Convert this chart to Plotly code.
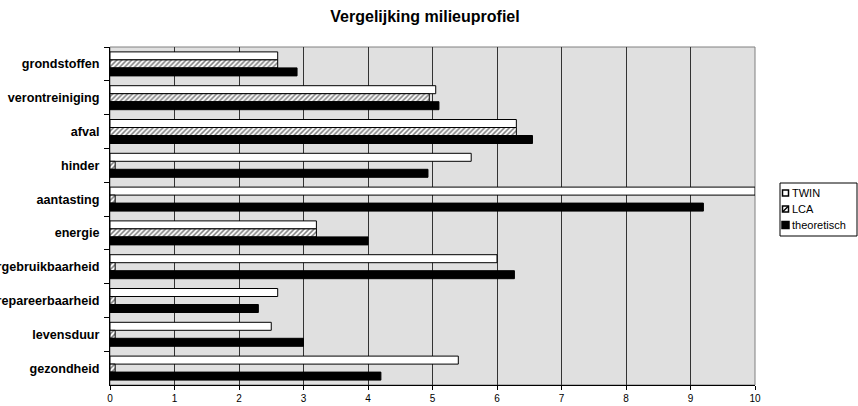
import plotly.graph_objects as go

categories = ["grondstoffen", "verontreiniging", "afval", "hinder", "aantasting",
              "energie", "hergebruikbaarheid", "repareerbaarheid", "levensduur", "gezondheid"]
twin = [2.6, 5.05, 6.3, 5.6, 10.0, 3.2, 6.0, 2.6, 2.5, 5.4]
lca = [2.6, 4.95, 6.3, 0.08, 0.08, 3.2, 0.08, 0.08, 0.08, 0.08]
theoretisch = [2.9, 5.1, 6.55, 4.93, 9.2, 4.0, 6.27, 2.3, 3.0, 4.2]
series_names = ["TWIN", "LCA", "theoretisch"]
x_ticks = list(range(0, 11))

W, H = 858, 406
L, R, T, B = 110, 103, 47, 21
FONT = "Liberation Sans, Arial, sans-serif"


def px(x):
    """pixel column -> paper x"""
    return (x - L) / (W - L - R)


def py(y):
    """pixel row -> paper y"""
    return (H - B - y) / (H - T - B)


line = dict(color="black", width=1)
fig = go.Figure()
fig.add_trace(go.Bar(y=categories, x=twin, name=series_names[0], orientation="h",
                     marker=dict(color="white", line=line)))
fig.add_trace(go.Bar(y=categories, x=lca, name=series_names[1], orientation="h",
                     marker=dict(color="white", line=line,
                                 pattern=dict(shape="/", fgcolor="black", bgcolor="white",
                                              size=3.5, solidity=0.45))))
fig.add_trace(go.Bar(y=categories, x=theoretisch, name=series_names[2], orientation="h",
                     marker=dict(color="black", line=line)))

fig.update_layout(
    width=W, height=H,
    margin=dict(l=L, r=R, t=T, b=B, autoexpand=False),
    paper_bgcolor="white", plot_bgcolor="#e0e0e0",
    barmode="group", bargap=0.29, bargroupgap=0.0,
    font=dict(family=FONT, color="black"),
    title=dict(text="<b>Vergelijking milieuprofiel</b>", x=425 / W, xanchor="center",
               y=1 - 16 / H, yanchor="middle", font=dict(size=16)),
    showlegend=False,
)
fig.update_xaxes(range=[0, 10], tickvals=x_ticks, ticktext=[str(v) for v in x_ticks],
                 showgrid=True, gridcolor="#333333", gridwidth=1,
                 ticks="outside", ticklen=4, tickcolor="black",
                 showline=True, linecolor="black", linewidth=1,
                 tickfont=dict(size=10), zeroline=False, automargin=False)
fig.update_yaxes(autorange="reversed", tickson="boundaries", ticks="outside",
                 ticklen=5, tickcolor="black", showgrid=False,
                 showline=True, linecolor="black", linewidth=1,
                 tickfont=dict(size=12.6, family=FONT),
                 ticklabelstandoff=7, automargin=False,
                 tickprefix="<b>", ticksuffix="</b>")
# grey frame on top and right of the plotting area
fig.add_shape(type="rect", xref="paper", yref="paper", x0=0, x1=1, y0=0, y1=1,
              line=dict(color="#808080", width=1), layer="below")

# legend box with its swatches
fig.add_shape(type="rect", xref="paper", yref="paper",
              x0=px(780), x1=px(857), y0=py(183), y1=py(236),
              line=dict(color="black", width=1), fillcolor="white")
rows = [193, 209, 225]
for name, yc in zip(series_names, rows):
    fill = "black" if name == "theoretisch" else "white"
    s = 3.5 if name == "theoretisch" else 3
    fig.add_shape(type="rect", xref="paper", yref="paper",
                  x0=px(785.5 - s), x1=px(785.5 + s), y0=py(yc + s), y1=py(yc - s),
                  line=dict(color="black", width=1.5), fillcolor=fill)
    if name == "LCA":
        fig.add_shape(type="line", xref="paper", yref="paper",
                      x0=px(783), x1=px(788), y0=py(yc + 2.5), y1=py(yc - 2.5),
                      line=dict(color="black", width=1.5))
    fig.add_annotation(text=name, xref="paper", yref="paper", x=px(790), y=py(yc),
                       xanchor="left", yanchor="middle", showarrow=False,
                       font=dict(size=11, family=FONT))
fig.write_html("out.html")
